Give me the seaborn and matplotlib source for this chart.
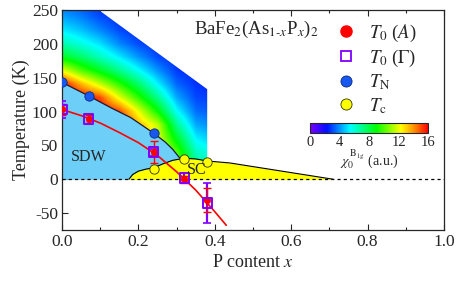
import numpy as np
import pandas as pd
import matplotlib
matplotlib.use("Agg")
import matplotlib.pyplot as plt
import seaborn as sns
from matplotlib.colors import LinearSegmentedColormap
from matplotlib.patches import Polygon
from matplotlib.lines import Line2D

# ---------------- data ----------------
x_pts = [0.0, 0.07, 0.24, 0.32, 0.38]
T0A = [103, 89, 40, 0, -31]
T0A_err = [8, 6, 16, 5, 18]
T0G = [103, 89, 40, 2, -35]
T0G_err = [13, 8, 5, 7, 29]

TN_x = [0.0, 0.07, 0.24]
TN_T = [143, 123, 69]
Tc_x = [0.24, 0.32, 0.38]
Tc_T = [15, 30, 26]

# fit line for T0
fit_x = [0.0, 0.05, 0.10, 0.15, 0.20, 0.25, 0.30, 0.35, 0.40, 0.43]
fit_T = [103, 94, 83, 69, 54, 35, 11, -16, -48, -68]

# SDW phase boundary
tn_line_x = [0.0, 0.07, 0.13, 0.18, 0.24, 0.27, 0.29, 0.31]
tn_line_T = [143, 123, 105, 91, 68, 55, 44, 30]

# SC dome
dome_x = [0.175, 0.185, 0.20, 0.22, 0.24, 0.265, 0.29, 0.32, 0.35, 0.38, 0.44, 0.71]
dome_T = [0, 7, 12, 15, 17, 23, 28, 31, 30, 27, 24, 0]

# chi_0 map (rows: temperature, cols: x)
chi_x = [0.0, 0.05, 0.10, 0.15, 0.20, 0.25, 0.30, 0.35, 0.40]
chi_T = [0, 20, 40, 60, 80, 100, 120, 140, 160, 180, 200, 220, 240, 260]
chi_vals = [
    [16, 16, 16, 16, 14, 12, 10, 7.0, 6.0],        # 0
    [16, 16, 16, 16, 14, 12, 10, 7.0, 6.0],        # 20
    [16, 16, 16, 16, 14, 12, 10, 6.3, 5.5],        # 40
    [16, 16, 16, 16, 14, 12, 8.5, 5.3, 4.6],       # 60
    [16, 16, 16, 16, 13.5, 11.5, 7.0, 4.3, 3.8],   # 80
    [16, 16, 16, 15, 12, 9.0, 5.5, 3.5, 3.2],      # 100
    [16, 16, 15, 12, 9.5, 7.0, 4.3, 3.0, 2.8],     # 120
    [16, 13.5, 11.5, 9.5, 7.5, 5.3, 3.4, 2.7, 2.5],# 140
    [12, 10, 8.5, 7.0, 5.5, 4.0, 2.8, 2.5, 2.3],   # 160
    [8.5, 7.5, 6.3, 5.2, 4.0, 3.0, 2.5, 2.4, 2.3], # 180
    [6.5, 5.8, 5.0, 3.8, 3.0, 2.6, 2.4, 2.3, 2.3], # 200
    [5.2, 4.6, 3.8, 3.0, 2.6, 2.4, 2.3, 2.3, 2.3], # 220
    [4.2, 3.7, 3.0, 2.6, 2.4, 2.3, 2.3, 2.3, 2.3], # 240
    [3.5, 3.0, 2.6, 2.4, 2.3, 2.3, 2.3, 2.3, 2.3], # 260
]
# region where the chi_0 map was measured
region_x = [0.0, 0.096, 0.38, 0.38, 0.0]
region_T = [250, 250, 133, 0, 0]

cbar_ticks = [0, 4, 8, 12, 16]

# ---------------- style ----------------
sns.set_style("ticks")
plt.rcParams["font.family"] = ["Liberation Serif", "DejaVu Serif"]
plt.rcParams["mathtext.fontset"] = "stix"
plt.rcParams["axes.unicode_minus"] = False
plt.rcParams["xtick.direction"] = "in"
plt.rcParams["ytick.direction"] = "in"

fig = plt.figure(figsize=(4.63, 2.84), dpi=100)
ax = fig.add_axes([0.134, 0.190, 0.825, 0.775])

cmap = LinearSegmentedColormap.from_list(
    "chi", [(0.0, "#7a00ff"), (0.14, "#0010ff"), (0.34, "#00ffff"),
            (0.56, "#00ff00"), (0.77, "#ffff00"), (0.88, "#ff9000"),
            (1.0, "#ff0000")])

dx = chi_x[1] - chi_x[0]
dT = chi_T[1] - chi_T[0]
img = ax.imshow(np.array(chi_vals), origin="lower", cmap=cmap, vmin=0, vmax=16,
                extent=[chi_x[0] - dx / 2, chi_x[-1] + dx / 2,
                        chi_T[0] - dT / 2, chi_T[-1] + dT / 2],
                aspect="auto", interpolation="bilinear", zorder=1)
clip = Polygon(np.column_stack([region_x, region_T]), closed=True,
               transform=ax.transData, facecolor="none", edgecolor="none")
ax.add_patch(clip)
img.set_clip_path(clip)

# SDW region
ax.fill_between(tn_line_x, tn_line_T, 0, color="#6dcff8", lw=0, zorder=2)
# SC dome
ax.fill_between(dome_x, dome_T, 0, color="#ffff00", lw=0, zorder=3)
sns.lineplot(x=dome_x, y=dome_T, ax=ax, color="black", lw=0.8, sort=False,
             estimator=None, zorder=4)
sns.lineplot(x=tn_line_x, y=tn_line_T, ax=ax, color="#1a1a3a", lw=0.9,
             sort=False, estimator=None, zorder=4)
ax.axhline(0, color="black", lw=0.9, ls=(0, (2.5, 2.5)), zorder=4)

# T0 fit
sns.lineplot(x=fit_x, y=fit_T, ax=ax, color="#ff0000", lw=1.2, sort=False,
             estimator=None, zorder=5)

# error bars
ax.errorbar(x_pts, T0G, yerr=T0G_err, fmt="none", ecolor="#8000ff",
            elinewidth=1.6, capsize=3, capthick=1.2, zorder=6)
ax.errorbar(x_pts, T0A, yerr=T0A_err, fmt="none", ecolor="#ff0000",
            elinewidth=1.0, capsize=3, capthick=1.0, zorder=6)

df_A = pd.DataFrame({"x": x_pts, "T": T0A})
df_G = pd.DataFrame({"x": x_pts, "T": T0G})
sns.scatterplot(data=df_A, x="x", y="T", ax=ax, marker="o", s=22,
                color="#ff0000", edgecolor="#ff0000", linewidth=0.5, zorder=7)
sns.scatterplot(data=df_G, x="x", y="T", ax=ax, marker="s", s=45,
                facecolor="none", edgecolor="#8000ff", linewidth=1.4, zorder=8)
sns.scatterplot(x=TN_x, y=TN_T, ax=ax, marker="o", s=45, color="#1858f0",
                edgecolor="#0a2a80", linewidth=0.6, zorder=7)
sns.scatterplot(x=Tc_x, y=Tc_T, ax=ax, marker="o", s=45, color="#ffff00",
                edgecolor="#333300", linewidth=0.6, zorder=7)

# labels
ax.text(0.07, 33, "SDW", fontsize=11.5, ha="center", va="center", zorder=9)
ax.text(0.352, 13, "SC", fontsize=11.5, ha="center", va="center", zorder=9)
ax.text(0.51, 221, r"BaFe$_2$(As$_{1\text{-}x}$P$_x$)$_2$", fontsize=13.5,
        ha="center", va="center", zorder=9)

# legend
handles = [
    Line2D([], [], ls="none", marker="o", ms=8, mfc="#ff0000", mec="#ff0000"),
    Line2D([], [], ls="none", marker="s", ms=7.5, mfc="white", mec="#8000ff", mew=1.3),
    Line2D([], [], ls="none", marker="o", ms=8, mfc="#1858f0", mec="#0a2a80", mew=0.6),
    Line2D([], [], ls="none", marker="o", ms=8, mfc="#ffff00", mec="#333300", mew=0.6),
]
labels = [r"$T_0$ ($A$)", r"$T_0$ ($\Gamma$)", r"$T_\mathrm{N}$", r"$T_\mathrm{c}$"]
ax.legend(handles, labels, loc="upper left", bbox_to_anchor=(0.69, 0.985),
          frameon=False, fontsize=13.5, labelspacing=0.2, handletextpad=0.6,
          borderaxespad=0.1, handlelength=1.2)

ax.set_xlim(0, 1.0)
ax.set_ylim(-75, 250)
ax.set_xticks([0, 0.2, 0.4, 0.6, 0.8, 1.0])
ax.set_xticklabels(["0.0", "0.2", "0.4", "0.6", "0.8", "1.0"])
ax.set_xticks(np.arange(0.1, 1.0, 0.2), minor=True)
ax.set_yticks([-50, 0, 50, 100, 150, 200, 250])
ax.tick_params(axis="both", which="major", labelsize=12.5, length=4, width=0.8,
               top=True, pad=3)
ax.tick_params(axis="x", which="minor", length=2.5, width=0.8, top=True)
ax.set_xlabel(r"P content $x$", fontsize=13, labelpad=3)
ax.set_ylabel("Temperature (K)", fontsize=13, labelpad=1)
for s in ax.spines.values():
    s.set_linewidth(0.9)

# colorbar
cax = fig.add_axes([0.670, 0.532, 0.255, 0.035])
cb = fig.colorbar(img, cax=cax, orientation="horizontal", ticks=cbar_ticks)
cb.outline.set_linewidth(0.8)
cax.tick_params(length=0, labelsize=10.5, pad=2)
cb.set_label(r"$\chi_0^{\,\mathrm{B_{1g}}}$ (a.u.)", fontsize=10, labelpad=0)

fig.savefig("out.png", dpi=100)
